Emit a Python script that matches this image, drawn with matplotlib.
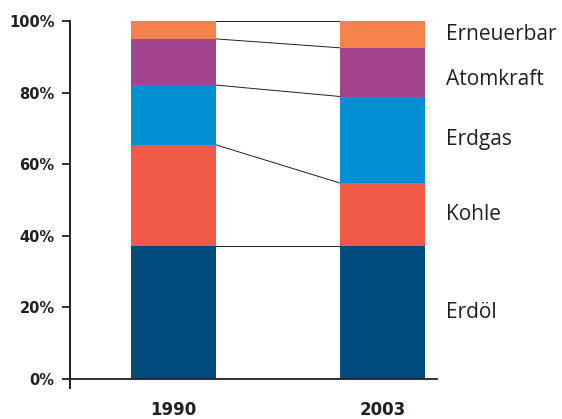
import matplotlib.pyplot as plt

# Anteile am Energieverbrauch (%), von unten nach oben
years = ["1990", "2003"]
sources = ["Erdöl", "Kohle", "Erdgas", "Atomkraft", "Erneuerbar"]
share_1990 = [37.1, 28.3, 16.7, 12.9, 5.0]
share_2003 = [37.1, 17.6, 24.2, 13.6, 7.5]
colors = ["#004c7e", "#f05a46", "#008fd0", "#a2448e", "#f5824b"]

dark = "#231f20"

fig = plt.figure(figsize=(5.62, 4.19), dpi=100)
ax = fig.add_axes([70 / 562, 40 / 419, 367 / 562, 358 / 419])

x = [0, 1]
w = 0.406

# gestapelte Balken
bottom = [0.0, 0.0]
tops_1990 = []
tops_2003 = []
for i, name in enumerate(sources):
    vals = [share_1990[i], share_2003[i]]
    ax.bar(x, vals, width=w, bottom=bottom, color=colors[i], linewidth=0, zorder=2)
    bottom = [bottom[0] + vals[0], bottom[1] + vals[1]]
    tops_1990.append(bottom[0])
    tops_2003.append(bottom[1])

# Verbindungslinien zwischen den Balken
for t0, t1 in zip(tops_1990, tops_2003):
    ax.plot([x[0] + w / 2, x[1] - w / 2], [t0, t1], color=dark, lw=0.7, zorder=1)

# Beschriftung rechts neben dem 2003-Balken
nudge = [0, 0, 0, -2.0, 0]
for i, name in enumerate(sources):
    mid = tops_2003[i] - share_2003[i] / 2 + nudge[i]
    ax.text(1.30, mid, name, ha="left", va="center", fontsize=15,
            family="Open Sans", fontweight="medium", color=dark, clip_on=False)

ax.set_xlim(-0.494, 1.258)
ax.set_ylim(0, 100)

ax.set_yticks(range(0, 101, 20))
ax.set_yticklabels([f"{v}%" for v in range(0, 101, 20)],
                   fontsize=10.5, fontweight="bold", color=dark)
ax.set_xticks(x)
ax.set_xticklabels(years, fontsize=12, fontweight="bold", color=dark)

ax.tick_params(axis="y", length=6, width=1.3, color=dark, pad=5)
ax.tick_params(axis="x", length=0, pad=16)

for s in ["top", "right"]:
    ax.spines[s].set_visible(False)
ax.spines["left"].set_linewidth(1.4)
ax.spines["bottom"].set_linewidth(1.3)
ax.spines["left"].set_color(dark)
ax.spines["bottom"].set_color(dark)
ax.spines["left"].set_bounds(-2.5, 100)

fig.savefig("out.png", dpi=100)
